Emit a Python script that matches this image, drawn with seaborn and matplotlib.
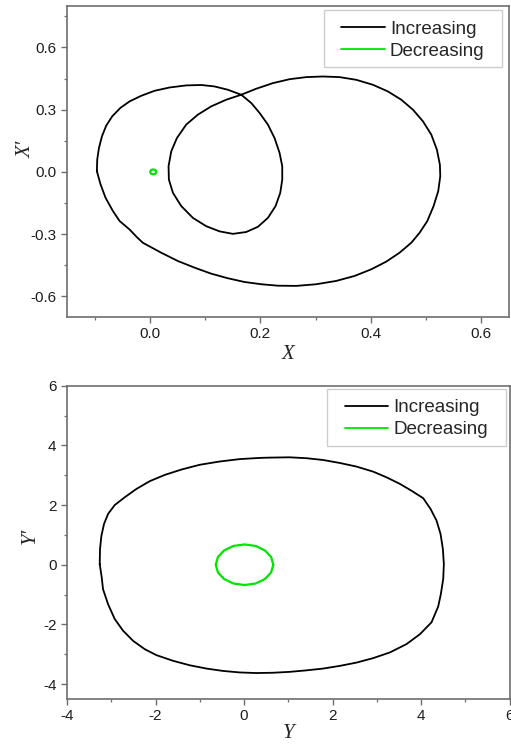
import numpy as np
import pandas as pd
import matplotlib
matplotlib.use("Agg")
import matplotlib.pyplot as plt
from matplotlib.patches import Rectangle
from matplotlib.ticker import MultipleLocator, FormatStrFormatter
import seaborn as sns

# ---- phase portrait of X (increasing parameter): period-2 orbit, clockwise ----
x_inc = [-0.0959, -0.0953, -0.0922, -0.0868, -0.0790, -0.0681, -0.0536,
         -0.0367, -0.0156, 0.0085, 0.0357, 0.0658, 0.0930, 0.1171, 0.1412,
         0.1654, 0.1835, 0.1986, 0.2136, 0.2257, 0.2348, 0.2396, 0.2396,
         0.2360, 0.2275, 0.2136, 0.1955, 0.1744, 0.1503, 0.1262, 0.1020,
         0.0779, 0.0568, 0.0417, 0.0344, 0.0338, 0.0387, 0.0489, 0.0658,
         0.0869, 0.1111, 0.1382, 0.1654, 0.1925, 0.2227, 0.2529, 0.2830,
         0.3132, 0.3434, 0.3735, 0.4037, 0.4308, 0.4550, 0.4761, 0.4942,
         0.5093, 0.5195, 0.5249, 0.5256, 0.5219, 0.5135, 0.5020, 0.4881,
         0.4731, 0.4519, 0.4278, 0.4007, 0.3705, 0.3373, 0.3011, 0.2649,
         0.2320, 0.2016, 0.1710, 0.1410, 0.1110, 0.0809, 0.0507, 0.0206,
         -0.0127, -0.0235, -0.0367, -0.0548, -0.0669, -0.0802, -0.0892]
xp_inc = [0.003, 0.059, 0.115, 0.171, 0.223, 0.268, 0.308, 0.340, 0.367,
          0.391, 0.407, 0.417, 0.419, 0.412, 0.396, 0.372, 0.332, 0.284,
          0.228, 0.163, 0.091, 0.027, -0.037, -0.101, -0.165, -0.222, -0.265,
          -0.290, -0.299, -0.287, -0.262, -0.222, -0.165, -0.101, -0.037,
          0.027, 0.099, 0.163, 0.228, 0.276, 0.316, 0.348, 0.372, 0.401,
          0.428, 0.447, 0.457, 0.460, 0.457, 0.444, 0.420, 0.388, 0.348,
          0.300, 0.244, 0.180, 0.107, 0.035, -0.021, -0.093, -0.165, -0.238,
          -0.294, -0.342, -0.390, -0.433, -0.470, -0.502, -0.526, -0.542,
          -0.550, -0.549, -0.542, -0.531, -0.513, -0.491, -0.462, -0.430,
          -0.390, -0.342, -0.315, -0.278, -0.237, -0.189, -0.125, -0.061]

# ---- X (decreasing parameter): tiny cycle near the origin ----
x_dec = [0.0115, 0.0100, 0.0060, 0.0020, 0.0005, 0.0020, 0.0060, 0.0100]
xp_dec = [0.000, 0.009, 0.012, 0.009, 0.000, -0.009, -0.012, -0.009]

# ---- phase portrait of Y (increasing parameter) ----
y_inc = [-3.261, -3.254, -3.223, -3.163, -3.073, -2.922, -2.696, -2.432,
         -2.131, -1.792, -1.415, -1.001, -0.549, -0.097, 0.355, 0.581, 1.033,
         1.409, 1.786, 2.163, 2.539, 2.916, 3.217, 3.519, 3.782, 4.046,
         4.212, 4.347, 4.438, 4.490, 4.513, 4.498, 4.445, 4.385, 4.234,
         3.971, 3.669, 3.293, 2.916, 2.539, 2.163, 1.786, 1.409, 1.033,
         0.656, 0.280, -0.097, -0.474, -0.850, -1.227, -1.604, -1.980,
         -2.244, -2.508, -2.734, -2.922, -3.073, -3.186, -3.216]
yp_inc = [0.02, 0.53, 0.97, 1.37, 1.70, 2.00, 2.26, 2.54, 2.80, 3.01, 3.19,
          3.35, 3.46, 3.54, 3.58, 3.59, 3.60, 3.57, 3.51, 3.41, 3.29, 3.12,
          2.93, 2.71, 2.48, 2.23, 1.87, 1.48, 1.03, 0.53, 0.02, -0.48, -0.98,
          -1.40, -1.93, -2.33, -2.66, -2.94, -3.13, -3.28, -3.39, -3.48,
          -3.54, -3.59, -3.62, -3.63, -3.61, -3.56, -3.48, -3.37, -3.22,
          -3.03, -2.83, -2.55, -2.21, -1.82, -1.32, -0.82, -0.42]

# ---- Y (decreasing parameter): small cycle around the origin ----
y_dec = [0.66, 0.61, 0.47, 0.26, 0.01, -0.24, -0.45, -0.59, -0.64, -0.59,
         -0.45, -0.24, 0.01, 0.26, 0.47, 0.61]
yp_dec = [0.00, 0.26, 0.48, 0.63, 0.68, 0.63, 0.48, 0.26, 0.00, -0.26,
          -0.48, -0.63, -0.68, -0.63, -0.48, -0.26]

series_labels = ["Increasing", "Decreasing"]
series_colors = ["#000000", "#00e400"]


def closed(xs, ys):
    return pd.DataFrame({"u": list(xs) + [xs[0]], "v": list(ys) + [ys[0]]})


sns.set_style("white")
plt.rcParams["font.family"] = ["Liberation Sans", "DejaVu Sans"]
plt.rcParams["axes.unicode_minus"] = False

fig = plt.figure(figsize=(5.11, 7.44), dpi=100)
ax1 = fig.add_axes([67 / 511, 1 - 317 / 744, 442 / 511, 311 / 744])
ax2 = fig.add_axes([67 / 511, 1 - 699 / 744, 442.7 / 511, 313.3 / 744])

spine_col = "#6e6e6e"
label_font = dict(family=["Liberation Serif", "DejaVu Serif"], style="italic",
                  size=15)


def style_axes(ax):
    for s in ax.spines.values():
        s.set_color(spine_col)
        s.set_linewidth(1.2)
    ax.tick_params(which="both", direction="out", bottom=True, left=True,
                   top=False, right=False, color=spine_col, labelsize=11,
                   labelcolor="#1e1e1e")
    ax.tick_params(which="major", length=4, width=1.0)
    ax.tick_params(which="minor", length=2.5, width=0.9)


def draw(ax, xa, ya, xb, yb):
    sns.lineplot(data=closed(xa, ya), x="u", y="v", sort=False,
                 estimator=None, ax=ax, color=series_colors[0], lw=1.3,
                 label=series_labels[0])
    sns.lineplot(data=closed(xb, yb), x="u", y="v", sort=False,
                 estimator=None, ax=ax, color=series_colors[1], lw=1.6,
                 label=series_labels[1])


# top panel
draw(ax1, x_inc, xp_inc, x_dec, xp_dec)
ax1.set_xlim(-0.15, 0.65)
ax1.set_ylim(-0.7, 0.8)
ax1.xaxis.set_major_locator(MultipleLocator(0.2))
ax1.xaxis.set_minor_locator(MultipleLocator(0.1))
ax1.yaxis.set_major_locator(MultipleLocator(0.3))
ax1.yaxis.set_minor_locator(MultipleLocator(0.15))
ax1.xaxis.set_major_formatter(FormatStrFormatter("%.1f"))
ax1.yaxis.set_major_formatter(FormatStrFormatter("%.1f"))
ax1.set_xlabel("X", **label_font)
ax1.set_ylabel("X\u2032", **label_font)
ax1.xaxis.set_label_coords(0.5, -0.09)
ax1.yaxis.set_label_coords(-0.07, 0.54)
style_axes(ax1)

# bottom panel
draw(ax2, y_inc, yp_inc, y_dec, yp_dec)
ax2.set_xlim(-4, 6)
ax2.set_ylim(-4.5, 6)
ax2.xaxis.set_major_locator(MultipleLocator(2))
ax2.xaxis.set_minor_locator(MultipleLocator(1))
ax2.yaxis.set_major_locator(MultipleLocator(2))
ax2.yaxis.set_minor_locator(MultipleLocator(1))
ax2.set_xlabel("Y", **label_font)
ax2.set_ylabel("Y\u2032", **label_font)
ax2.xaxis.set_label_coords(0.5, -0.081)
ax2.yaxis.set_label_coords(-0.062, 0.52)
style_axes(ax2)

# legends: entries plus a light frame box
legend_boxes = {
    ax1: dict(anchor=(0.621, 0.953), box=(0.5814, 0.804, 0.984, 0.987)),
    ax2: dict(anchor=(0.628, 0.957), box=(0.5866, 0.8075, 0.9917, 0.9895)),
}
for ax, spec in legend_boxes.items():
    x0, y0, x1, y1 = spec["box"]
    ax.add_patch(Rectangle((x0, y0), x1 - x0, y1 - y0, transform=ax.transAxes,
                           facecolor="white", edgecolor="#cdcdcd", lw=1.0,
                           zorder=4))
    leg = ax.legend(loc="upper left", bbox_to_anchor=spec["anchor"],
                    borderaxespad=0, borderpad=0, fontsize=13.5,
                    handlelength=2.3, handletextpad=0.28, labelspacing=0.27,
                    frameon=False)
    leg.set_zorder(5)
    for h in leg.get_lines():
        h.set_linewidth(1.3)

fig.savefig("out.png", dpi=100)
